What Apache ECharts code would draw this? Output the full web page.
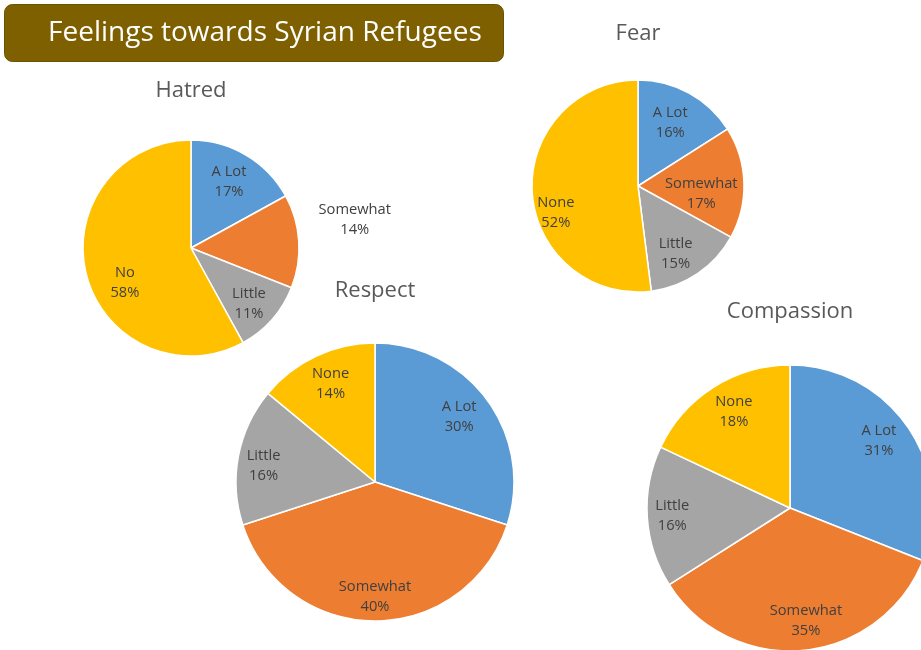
<!DOCTYPE html>
<html><head><meta charset="utf-8">
<script src="https://cdn.jsdelivr.net/npm/echarts@6/dist/echarts.min.js"></script>
<style>html,body{margin:0;padding:0;background:#fff}#c{width:921px;height:650px}</style>
</head><body><div id="c"></div>
<script>
// ---- data ----
const mainTitle = 'Feelings towards Syrian Refugees';
const chartTitles = ['Hatred', 'Fear', 'Respect', 'Compassion'];
const categoriesHatred = ['A Lot', 'Somewhat', 'Little', 'No'];
const valuesHatred = [17, 14, 11, 58];
const categoriesFear = ['A Lot', 'Somewhat', 'Little', 'None'];
const valuesFear = [16, 17, 15, 52];
const categoriesRespect = ['A Lot', 'Somewhat', 'Little', 'None'];
const valuesRespect = [30, 40, 16, 14];
const categoriesCompassion = ['A Lot', 'Somewhat', 'Little', 'None'];
const valuesCompassion = [31, 35, 16, 18];

// ---- style / layout ----
const colors = ['#5B9BD5', '#ED7D31', '#A5A5A5', '#FFC000'];
const FONT = '"Open Sans", "Noto Sans", sans-serif';
// label nudges (dx, dy) per slice, to mimic Excel's best-fit label placement
const pies = [
  { cats: categoriesHatred, vals: valuesHatred, cx: 191, cy: 248, r: 108, ratio: 0.70, titleTop: 80, outside: [1],
    nudge: [[-2, 1], [1, -20], [-1, 4], [10, 15]] },
  { cats: categoriesFear, vals: valuesFear, cx: 638, cy: 186, r: 106, ratio: 0.72, titleTop: 23, outside: [],
    nudge: [[-6, 6], [-16, 10], [-7, 2], [-3, 22]] },
  { cats: categoriesRespect, vals: valuesRespect, cx: 375, cy: 482, r: 139, ratio: 0.78, titleTop: 280, outside: [],
    nudge: [[-6, 0], [0, 3], [-2, 5], [3, 3]] },
  { cats: categoriesCompassion, vals: valuesCompassion, cx: 790, cy: 508, r: 143, ratio: 0.79, titleTop: 301, outside: [],
    nudge: [[-7, -2], [5, -3], [-2, 1], [6, 2]] }
];

const series = [];
const labelSeriesPie = {};
const titles = [{
  text: mainTitle, left: 48, top: 19, padding: 0,
  textStyle: { color: '#ffffff', fontFamily: FONT, fontSize: 28, fontWeight: 'normal' }
}];
pies.forEach((p, i) => {
  titles.push({
    text: chartTitles[i], left: p.cx, top: p.titleTop, textAlign: 'center', padding: 0,
    textStyle: { color: '#595959', fontFamily: FONT, fontSize: 22, fontWeight: 'normal' }
  });
  series.push({
    type: 'pie', center: [p.cx, p.cy], radius: [0, p.r], startAngle: 90, clockwise: true,
    animation: false, silent: true,
    label: { show: false }, labelLine: { show: false },
    itemStyle: { borderColor: '#ffffff', borderWidth: 1.5 },
    data: p.cats.map((c, k) => ({ name: c, value: p.vals[k], itemStyle: { color: colors[k] } }))
  });
  labelSeriesPie[series.length] = i;
  series.push({
    type: 'pie', center: [p.cx, p.cy], radius: [(2 * p.ratio - 1) * p.r, p.r], startAngle: 90, clockwise: true,
    animation: false, silent: true,
    itemStyle: { color: 'rgba(0,0,0,0)', borderWidth: 0 },
    label: {
      show: true, position: 'inside', formatter: '{b}\n{c}%',
      color: '#404040', fontFamily: FONT, fontSize: 14.7, lineHeight: 20
    },
    labelLine: { show: false },
    labelLayout: function (params) {
      const pie = pies[labelSeriesPie[params.seriesIndex]];
      const n = pie.nudge[params.dataIndex];
      const res = { dx: n[0], dy: n[1] };
      if (pie.outside.includes(params.dataIndex)) res.align = 'center';
      return res;
    },
    data: p.cats.map((c, k) => {
      const d = { name: c, value: p.vals[k] };
      if (p.outside.includes(k)) {
        d.label = { position: 'outside' };
        d.labelLine = { show: false, length: 20, length2: 30 };
      }
      return d;
    })
  });
});

const chart = echarts.init(document.getElementById('c'), null, { renderer: 'canvas' });
chart.setOption({
  animation: false,
  backgroundColor: '#ffffff',
  color: colors,
  graphic: [{
    type: 'rect', left: 4, top: 4, z: -1,
    shape: { width: 499, height: 57, r: 8 },
    style: { fill: '#7F6000', stroke: '#6b5200', lineWidth: 1 }
  }],
  title: titles,
  series: series
});
</script></body></html>
